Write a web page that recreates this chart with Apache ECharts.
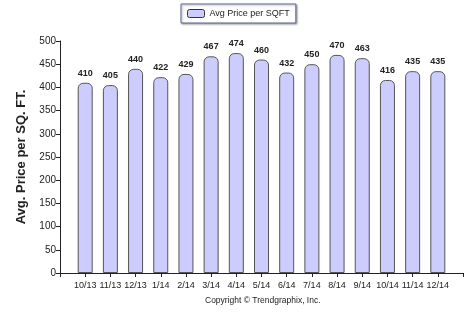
<!DOCTYPE html>
<html><head><meta charset="utf-8">
<script src="https://cdn.jsdelivr.net/npm/echarts@6/dist/echarts.min.js"></script>
<style>html,body{margin:0;padding:0;background:#fff}#c{width:474px;height:318px}</style>
</head><body><div id="c"></div>
<script>
var categories = ['10/13','11/13','12/13','1/14','2/14','3/14','4/14','5/14','6/14','7/14','8/14','9/14','10/14','11/14','12/14'];
var values = [410,405,440,422,429,467,474,460,432,450,470,463,416,435,435];
var yTicks = [0,50,100,150,200,250,300,350,400,450,500];
var seriesName = 'Avg Price per SQFT';

var cats = [''].concat(categories).concat(['']);
var data = [null].concat(values).concat([null]);
var font = 'Liberation Sans, Arial, sans-serif';
var chart = echarts.init(document.getElementById('c'));
chart.setOption({
  animation: false,
  textStyle: {fontFamily: font},
  legend: {
    data: [seriesName], top: 4, left: 181,
    padding: [5, 6, 5, 6],
    itemWidth: 17, itemHeight: 8, itemGap: 4,
    backgroundColor: '#fff', borderColor: '#56688f', borderWidth: 1,
    shadowColor: 'rgba(0,0,0,0.35)', shadowBlur: 2, shadowOffsetX: 1, shadowOffsetY: 1,
    textStyle: {fontSize: 9, color: '#222', fontFamily: font},
    itemStyle: {color: '#ccccff', borderColor: '#333', borderWidth: 1}
  },
  grid: {left: 60, right: 11, top: 41, bottom: 45, containLabel: false},
  xAxis: {
    type: 'category', data: cats, boundaryGap: false,
    axisLine: {lineStyle: {color: '#222', width: 1}},
    axisTick: {show: true, length: 4, inside: false, lineStyle: {color: '#222'}},
    axisLabel: {fontSize: 9, color: '#222', margin: 8, interval: 0},
    splitLine: {show: false}
  },
  yAxis: {
    type: 'value', min: yTicks[0], max: yTicks[yTicks.length-1], interval: 50,
    name: 'Avg. Price per SQ. FT.', nameLocation: 'middle', nameGap: 29,
    nameTextStyle: {fontSize: 13, fontWeight: 'bold', color: '#222', fontFamily: font},
    axisLine: {show: true, lineStyle: {color: '#222', width: 1}},
    axisTick: {show: true, length: 4, lineStyle: {color: '#222'}},
    axisLabel: {fontSize: 10, color: '#222', margin: 4},
    splitLine: {show: false}
  },
  series: [{
    name: seriesName, type: 'bar', data: data, barWidth: 15,
    itemStyle: {color: '#ccccff', borderColor: '#555', borderWidth: 1, borderRadius: [5,5,0,0]},
    label: {show: true, position: 'top', distance: 5, fontSize: 9, fontWeight: 'bold', color: '#222'}
  }],
  graphic: [{
    type: 'text', left: 205, top: 296,
    style: {text: 'Copyright \u00a9 Trendgraphix, Inc.', fontSize: 8.5, fill: '#222', fontFamily: font}
  }]
});
</script></body></html>
